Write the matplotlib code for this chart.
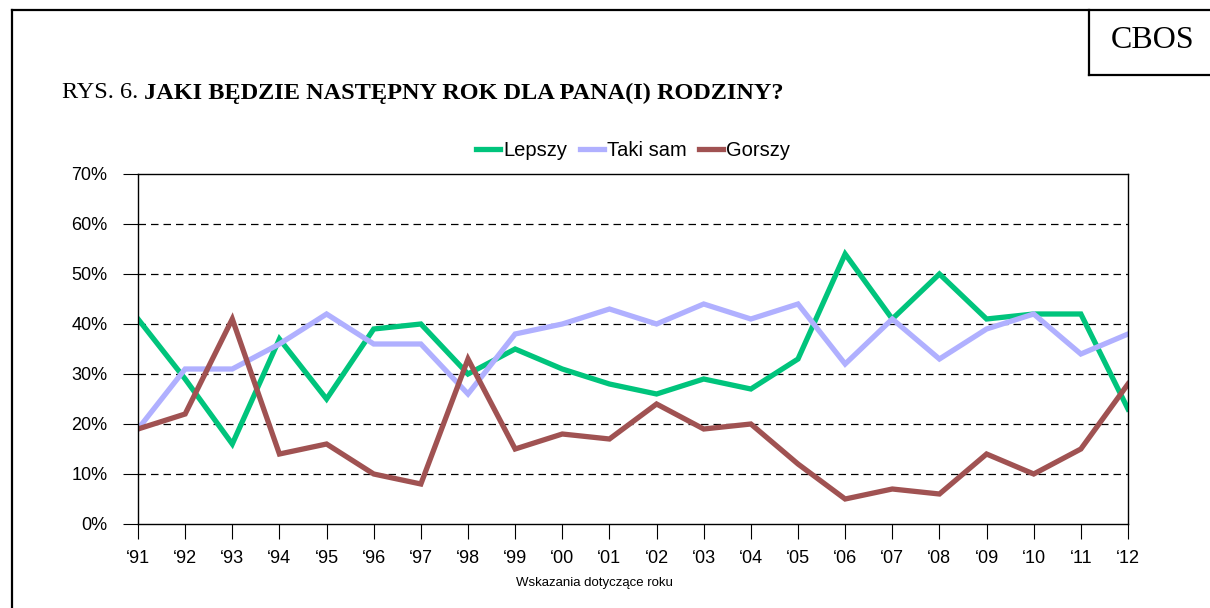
import matplotlib
matplotlib.use("Agg")
import matplotlib.pyplot as plt
import matplotlib.ticker as mticker
from matplotlib.lines import Line2D

years = ["‘91", "‘92", "‘93", "‘94", "‘95", "‘96", "‘97", "‘98", "‘99", "‘00", "‘01",
         "‘02", "‘03", "‘04", "‘05", "‘06", "‘07", "‘08", "‘09", "‘10", "‘11", "‘12"]
lepszy = [41, 29, 16, 37, 25, 39, 40, 30, 35, 31, 28, 26, 29, 27, 33, 54, 41, 50, 41, 42, 42, 23]
taki_sam = [19, 31, 31, 36, 42, 36, 36, 26, 38, 40, 43, 40, 44, 41, 44, 32, 41, 33, 39, 42, 34, 38]
gorszy = [19, 22, 41, 14, 16, 10, 8, 33, 15, 18, 17, 24, 19, 20, 12, 5, 7, 6, 14, 10, 15, 28]

series = [("Lepszy", lepszy, "#00C47C"), ("Taki sam", taki_sam, "#B0B0FF"), ("Gorszy", gorszy, "#A05252")]

plt.rcParams["font.family"] = ["Liberation Sans", "DejaVu Sans"]

fig = plt.figure(figsize=(12.1, 6.08), dpi=100)
ax = fig.add_axes([138 / 1210, 84 / 608, 990 / 1210, 350 / 608])

x = list(range(len(years)))
for name, vals, col in series:
    ax.plot(x, vals, color=col, linewidth=3.8, label=name, solid_joinstyle="miter")

ax.set_xlim(0, len(years) - 1)
ax.set_ylim(0, 70)
ax.set_xticks(x)
ax.set_xticklabels(years)
ax.set_yticks(range(0, 71, 10))
ax.yaxis.set_major_formatter(mticker.FuncFormatter(lambda v, _: f"{v:.0f}%"))
ax.tick_params(axis="both", labelsize=13, direction="out", length=11, width=0.8, colors="black")
ax.tick_params(axis="x", pad=8)
ax.tick_params(axis="y", pad=11)
for s in ax.spines.values():
    s.set_linewidth(1.0)
    s.set_color("black")
for v in range(10, 70, 10):
    ax.axhline(v, color="black", linewidth=0.9, linestyle=(0, (6, 4)), zorder=0.5)

handles = [Line2D([0], [0], color=c, linewidth=3.8) for _, _, c in series]
fig.legend(handles, [n for n, _, _ in series], loc="center", bbox_to_anchor=(633 / 1210, 1 - 151 / 608),
           ncol=3, frameon=False, fontsize=14.5, handlelength=1.2, handletextpad=0.15, columnspacing=0.6)

fig.text(594 / 1210, 1 - 583 / 608, "Wskazania dotyczące roku", ha="center", va="center", fontsize=9.5)

# title
t1 = fig.text(62 / 1210, 1 - 93 / 608, "RYS. 6. ", ha="left", va="center", fontsize=17.5,
              family="Liberation Serif")
fig.canvas.draw()
bb = t1.get_window_extent()
fig.text(bb.x1 / 1210, 1 - 93 / 608, "JAKI BĘDZIE NASTĘPNY ROK DLA PANA(I) RODZINY?", ha="left",
         va="center", fontsize=17.5, family="Liberation Serif", fontweight="bold")
fig.text(1153 / 1210, 1 - 41 / 608, "CBOS", ha="center", va="center", fontsize=23, family="Liberation Serif")

# frame lines
frame = dict(color="black", linewidth=1.6, transform=fig.transFigure)
fig.add_artist(Line2D([12 / 1210, 12 / 1210], [0, 1 - 10 / 608], **frame))
fig.add_artist(Line2D([12 / 1210, 1], [1 - 10 / 608, 1 - 10 / 608], **frame))
fig.add_artist(Line2D([1089 / 1210, 1089 / 1210], [1 - 10 / 608, 1 - 75 / 608], **frame))
fig.add_artist(Line2D([1089 / 1210, 1], [1 - 75 / 608, 1 - 75 / 608], **frame))

fig.savefig("out.png", dpi=100, facecolor="white")
